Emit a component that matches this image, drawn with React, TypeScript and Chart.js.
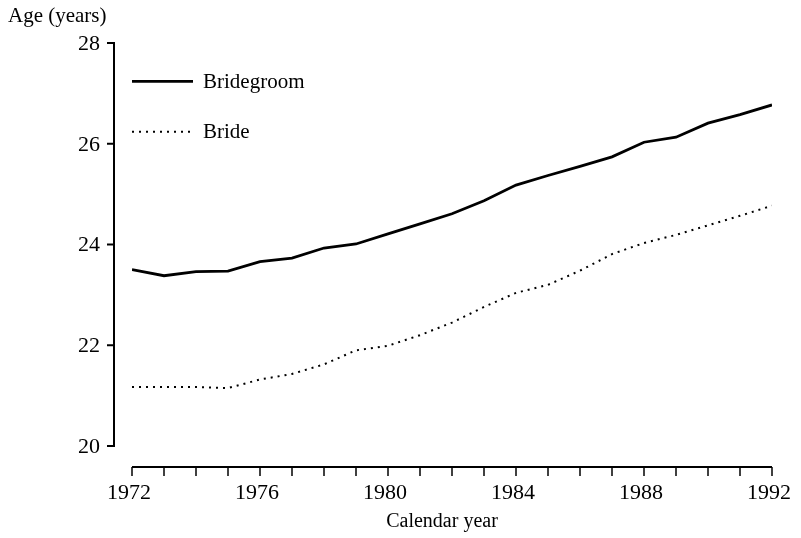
import React, { useEffect, useRef } from "react";
import { Chart, registerables } from "chart.js";

Chart.register(...registerables);

const years: number[] = [1972, 1973, 1974, 1975, 1976, 1977, 1978, 1979, 1980, 1981, 1982, 1983, 1984, 1985, 1986, 1987, 1988, 1989, 1990, 1991, 1992];
const bridegroom: number[] = [23.5, 23.38, 23.46, 23.47, 23.66, 23.73, 23.93, 24.01, 24.21, 24.41, 24.61, 24.87, 25.18, 25.37, 25.55, 25.74, 26.03, 26.13, 26.41, 26.58, 26.77];
const bride: number[] = [21.17, 21.17, 21.17, 21.15, 21.32, 21.43, 21.62, 21.9, 21.99, 22.2, 22.45, 22.76, 23.04, 23.2, 23.48, 23.81, 24.03, 24.19, 24.38, 24.57, 24.77];
const xTickLabels: number[] = [1972, 1976, 1980, 1984, 1988, 1992];
const yTickLabels: number[] = [20, 22, 24, 26, 28];
const seriesNames: string[] = ["Bridegroom", "Bride"];
const yTitle = "Age (years)";
const xTitle = "Calendar year";

const FONT = '"Liberation Serif", "DejaVu Serif", serif';

const axesPlugin = {
  id: "paperAxes",
  afterDraw(chart: any) {
    const ctx = chart.ctx as CanvasRenderingContext2D;
    const xs = chart.scales.x;
    const ys = chart.scales.y;
    const ca = chart.chartArea;
    ctx.save();
    ctx.strokeStyle = "#000";
    ctx.fillStyle = "#000";
    ctx.lineCap = "butt";

    // Y axis
    const yAxisX = ca.left - 18;
    ctx.lineWidth = 2;
    ctx.beginPath();
    ctx.moveTo(yAxisX, ys.getPixelForValue(28));
    ctx.lineTo(yAxisX, ys.getPixelForValue(20));
    ctx.stroke();
    ctx.font = `22px ${FONT}`;
    ctx.textAlign = "right";
    ctx.textBaseline = "middle";
    yTickLabels.forEach((v) => {
      const py = ys.getPixelForValue(v);
      ctx.beginPath();
      ctx.moveTo(yAxisX - 7, py);
      ctx.lineTo(yAxisX + 1, py);
      ctx.stroke();
      ctx.fillText(String(v), yAxisX - 14, py + 1);
    });

    // X axis
    const xAxisY = ca.bottom + 21;
    ctx.beginPath();
    ctx.moveTo(xs.getPixelForValue(years[0]), xAxisY);
    ctx.lineTo(xs.getPixelForValue(years[years.length - 1]), xAxisY);
    ctx.stroke();
    ctx.lineWidth = 1.5;
    years.forEach((yr) => {
      const px = xs.getPixelForValue(yr);
      ctx.beginPath();
      ctx.moveTo(px, xAxisY);
      ctx.lineTo(px, xAxisY + 9);
      ctx.stroke();
    });
    ctx.textAlign = "center";
    ctx.textBaseline = "middle";
    xTickLabels.forEach((yr) => {
      const px = xs.getPixelForValue(yr);
      ctx.fillText(String(yr), px - 3, xAxisY + 26);
    });

    // Titles
    ctx.font = `20px ${FONT}`;
    ctx.textAlign = "center";
    ctx.fillText(xTitle, (ca.left + ca.right) / 2 - 10, xAxisY + 55);
    ctx.font = `21px ${FONT}`;
    ctx.textAlign = "left";
    ctx.fillText(yTitle, 8, 16);

    // Legend
    const lx0 = ca.left;
    const lx1 = ca.left + 61;
    const ly = [ys.getPixelForValue(27.24), ys.getPixelForValue(26.24)];
    chart.data.datasets.forEach((ds: any, i: number) => {
      ctx.lineWidth = ds.borderWidth;
      ctx.setLineDash(ds.borderDash || []);
      ctx.beginPath();
      ctx.moveTo(lx0, ly[i]);
      ctx.lineTo(lx1, ly[i]);
      ctx.stroke();
      ctx.setLineDash([]);
      ctx.font = `21px ${FONT}`;
      ctx.textBaseline = "middle";
      ctx.fillText(ds.label, lx0 + 71, ly[i] + 1);
    });
    ctx.restore();
  },
};

export default function App() {
  const ref = useRef<HTMLCanvasElement | null>(null);
  useEffect(() => {
    document.body.style.margin = "0";
    const canvas = ref.current;
    if (!canvas) return;
    const chart = new Chart(canvas, {
      type: "line",
      data: {
        datasets: [
          {
            label: seriesNames[0],
            data: years.map((y, i) => ({ x: y, y: bridegroom[i] })),
            borderColor: "#000",
            borderWidth: 2.8,
            pointRadius: 0,
            tension: 0,
            fill: false,
          },
          {
            label: seriesNames[1],
            data: years.map((y, i) => ({ x: y, y: bride[i] })),
            borderColor: "#000",
            borderWidth: 2,
            borderDash: [2, 5],
            pointRadius: 0,
            tension: 0,
            fill: false,
          },
        ],
      },
      options: {
        animation: false,
        responsive: false,
        maintainAspectRatio: false,
        layout: { padding: { left: 132, right: 29, top: 43, bottom: 92 } },
        plugins: { legend: { display: false }, tooltip: { enabled: false } },
        scales: {
          x: { type: "linear", min: 1972, max: 1992, display: false },
          y: { type: "linear", min: 20, max: 28, display: false },
        },
      },
      plugins: [axesPlugin],
    });
    return () => chart.destroy();
  }, []);
  return (
    <div style={{ width: 801, height: 538, background: "#fff" }}>
      <canvas ref={ref} width={801} height={538} style={{ display: "block" }} />
    </div>
  );
}
